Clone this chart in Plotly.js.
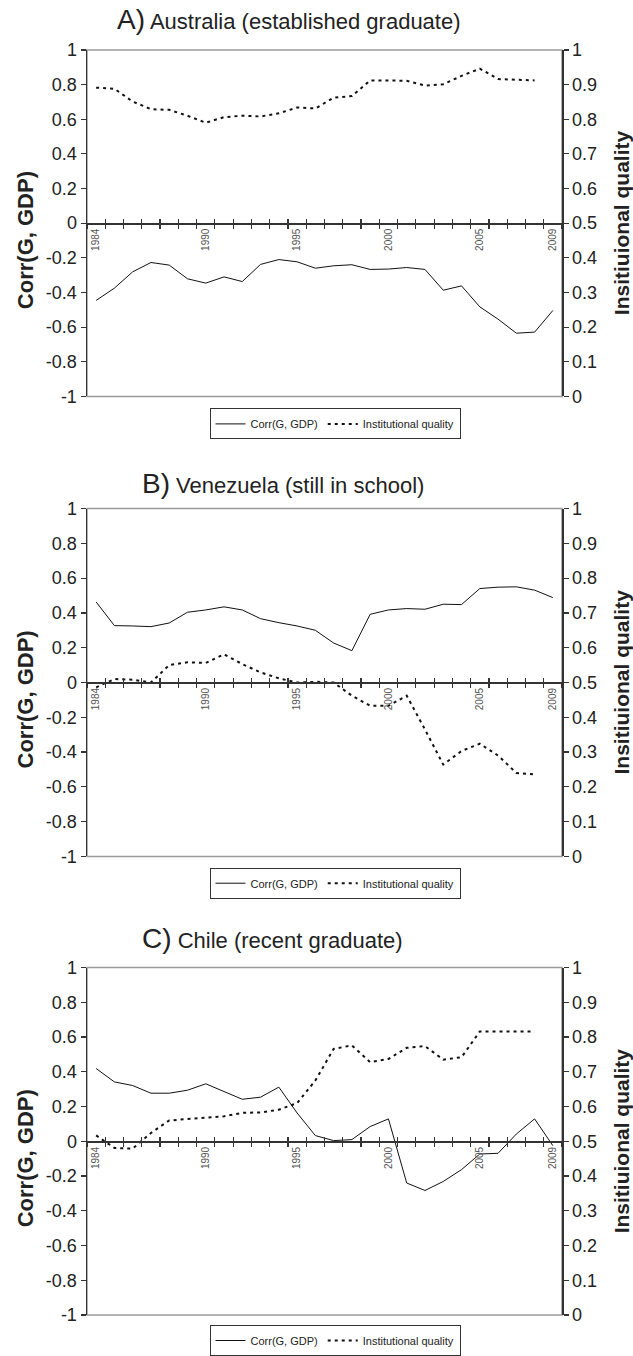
<!DOCTYPE html>
<html>
<head>
<meta charset="utf-8">
<script src="https://cdn.plot.ly/plotly-3.0.1.min.js"></script>
<style>
html,body{margin:0;padding:0;background:#fff;}
#chart{width:633px;height:1356px;}
</style>
</head>
<body>
<div id="chart"></div>
<script>
// ---- Data ----
const years = [1984,1985,1986,1987,1988,1989,1990,1991,1992,1993,1994,1995,1996,1997,1998,1999,2000,2001,2002,2003,2004,2005,2006,2007,2008,2009];
const instYears = [1984,1985,1986,1987,1988,1989,1990,1991,1992,1993,1994,1995,1996,1997,1998,1999,2000,2001,2002,2003,2004,2005,2006,2007,2008];

const ausCorr = [-0.446,-0.375,-0.281,-0.227,-0.242,-0.321,-0.346,-0.310,-0.337,-0.238,-0.210,-0.223,-0.260,-0.246,-0.240,-0.267,-0.265,-0.256,-0.267,-0.387,-0.362,-0.483,-0.554,-0.635,-0.629,-0.504];
const ausInst = [0.891,0.888,0.851,0.829,0.827,0.810,0.790,0.806,0.810,0.808,0.817,0.834,0.831,0.862,0.867,0.912,0.912,0.911,0.897,0.901,0.925,0.946,0.916,0.913,0.912];

const venCorr = [0.463,0.327,0.325,0.321,0.342,0.404,0.417,0.435,0.417,0.367,0.344,0.325,0.300,0.227,0.183,0.392,0.417,0.425,0.421,0.450,0.448,0.540,0.548,0.550,0.531,0.488];
const venInst = [0.486,0.510,0.508,0.500,0.550,0.558,0.556,0.581,0.553,0.529,0.512,0.500,0.502,0.500,0.462,0.433,0.433,0.462,0.365,0.264,0.303,0.324,0.290,0.240,0.236];

const chlCorr = [0.419,0.342,0.321,0.277,0.277,0.294,0.331,0.288,0.242,0.254,0.312,0.163,0.033,0.004,0.010,0.085,0.129,-0.240,-0.283,-0.231,-0.163,-0.073,-0.069,0.042,0.129,-0.025];
const chlInst = [0.517,0.481,0.479,0.524,0.560,0.564,0.569,0.572,0.582,0.583,0.591,0.610,0.675,0.766,0.776,0.728,0.737,0.769,0.774,0.735,0.742,0.816,0.816,0.816,0.816];

const labelYears = [1984,1990,1995,2000,2005,2009];
const labelYearText = ['1984','1990','1995','2000','2005','2009'];
const leftTicks = [-1,-0.8,-0.6,-0.4,-0.2,0,0.2,0.4,0.6,0.8,1];
const leftTickText = ['-1','-0.8','-0.6','-0.4','-0.2','0','0.2','0.4','0.6','0.8','1'];
const rightTicks = [0,0.1,0.2,0.3,0.4,0.5,0.6,0.7,0.8,0.9,1];
const rightTickText = ['0','0.1','0.2','0.3','0.4','0.5','0.6','0.7','0.8','0.9','1'];

const panelTitles = [
  ["A)", "Australia (established graduate)"],
  ["B)", "Venezuela (still in school)"],
  ["C)", "Chile (recent graduate)"]
];
const corrName = 'Corr(G, GDP)';
const instName = 'Institutional quality';
const leftTitle = 'Corr(G, GDP)';
const rightTitle = 'Insitiuional quality';

// ---- Layout geometry (pixels) ----
const W = 633, H = 1356;
const FONT = 'Liberation Sans, Arial, Helvetica, sans-serif';
const plotLeft = 87, plotRight = 562;
const panels = [
  {top: 50, bottom: 397, zero: 223.5, titleY: 20, titleX: 115, legendTop: 409},
  {top: 509.3, bottom: 857.7, zero: 683.5, titleY: 484, titleX: 140, legendTop: 869},
  {top: 969, bottom: 1317, zero: 1143, titleY: 940, titleX: 140, legendTop: 1327}
];
const py = v => 1 - v / H;
const px = v => v / W;

const series = [[ausCorr, ausInst],[venCorr, venInst],[chlCorr, chlInst]];
const data = [];
const layout = {
  width: W, height: H,
  margin: {l:0, r:0, t:0, b:0},
  paper_bgcolor: '#fff', plot_bgcolor: 'rgba(0,0,0,0)',
  font: {family: FONT, color: '#222'},
  showlegend: true,
  annotations: [],
  shapes: []
};

panels.forEach((p, i) => {
  const xm = i === 0 ? 'x' : 'x' + (i + 1);
  const xa = 'x' + (i + 4);
  const yl = i === 0 ? 'y' : 'y' + (2 * i + 1);
  const yr = 'y' + (2 * i + 2);
  const lg = i === 0 ? 'legend' : 'legend' + (i + 1);
  const xmKey = 'xaxis' + (i === 0 ? '' : (i + 1));
  const xaKey = 'xaxis' + (i + 4);
  const ylKey = 'yaxis' + (i === 0 ? '' : (2 * i + 1));
  const yrKey = 'yaxis' + (2 * i + 2);
  const ydom = [py(p.bottom), py(p.top)];
  const zeroPos = py(p.zero);
  const xrange = [1983.5, 2009.5];

  data.push({
    x: years, y: series[i][0], xaxis: xm, yaxis: yl, type: 'scatter', mode: 'lines',
    name: corrName, legend: lg, line: {color: '#111', width: 1}, hoverinfo: 'skip'
  });
  data.push({
    x: instYears, y: series[i][1], xaxis: xa, yaxis: yr, type: 'scatter', mode: 'lines',
    name: instName, legend: lg, line: {color: '#111', width: 2, dash: '3px,4px'}, hoverinfo: 'skip'
  });

  layout[xmKey] = {
    domain: [px(plotLeft), px(plotRight)], range: xrange, anchor: 'free', position: zeroPos,
    showline: true, linecolor: '#333', linewidth: 1.5, showgrid: false, zeroline: false,
    tickmode: 'array', tickvals: labelYears, ticktext: labelYearText, ticks: '',
    tickangle: -90, tickfont: {size: 10, color: '#555', family: FONT},
    minor: {ticks: 'outside', tickmode: 'linear', tick0: 1984.5, dtick: 1, ticklen: 4, tickcolor: '#333', tickwidth: 1.2, showgrid: false},
    fixedrange: true
  };
  layout[xaKey] = {
    overlaying: xm, range: xrange, anchor: 'free', position: zeroPos, side: 'bottom',
    showline: false, showgrid: false, zeroline: false,
    tickmode: 'linear', tick0: 1984.5, dtick: 1, ticks: 'inside', ticklen: 4, tickcolor: '#333', tickwidth: 1.2,
    showticklabels: false, fixedrange: true
  };
  layout[ylKey] = {
    domain: ydom, range: [-1, 1], anchor: xm, side: 'left',
    showline: true, linecolor: '#333', linewidth: 1.5, showgrid: false, zeroline: false,
    tickmode: 'array', tickvals: leftTicks, ticktext: leftTickText,
    ticks: 'outside', ticklen: 5, tickcolor: '#333', tickwidth: 1.2,
    tickfont: {size: 18, color: '#222', family: FONT}, fixedrange: true
  };
  layout[yrKey] = {
    overlaying: yl, range: [0, 1], anchor: xm, side: 'right',
    showline: true, linecolor: '#333', linewidth: 1.5, showgrid: false, zeroline: false,
    tickmode: 'array', tickvals: rightTicks, ticktext: rightTickText,
    ticks: 'outside', ticklen: 5, tickcolor: '#333', tickwidth: 1.2,
    tickfont: {size: 18, color: '#222', family: FONT}, fixedrange: true
  };

  layout[lg] = {
    x: px((202 + 468) / 2), xanchor: 'center', y: py(p.legendTop), yanchor: 'top',
    orientation: 'h', bordercolor: '#333', borderwidth: 1, bgcolor: '#fff',
    font: {size: 11, color: '#222', family: FONT}, itemclick: false, itemdoubleclick: false
  };

  layout.shapes.push({
    type: 'rect', xref: xm + ' domain', yref: yl + ' domain', x0: 0, x1: 1, y0: 0, y1: 1,
    line: {color: '#9a9a9a', width: 1.5}, layer: 'below'
  });

  layout.annotations.push({
    xref: 'paper', yref: 'paper', x: px(p.titleX), y: py(p.titleY), xanchor: 'left', yanchor: 'middle',
    showarrow: false,
    text: "<span style='font-size:28px'>" + panelTitles[i][0] + "</span> " + panelTitles[i][1],
    font: {size: 22, color: '#222', family: FONT}
  });
  layout.annotations.push({
    xref: 'paper', yref: 'paper', x: px(25), y: py(p.zero + 17), xanchor: 'center', yanchor: 'middle',
    showarrow: false, textangle: -90, text: '<b>' + leftTitle + '</b>',
    font: {size: 22, color: '#222', family: FONT}
  });
  layout.annotations.push({
    xref: 'paper', yref: 'paper', x: px(621), y: py(p.zero), xanchor: 'center', yanchor: 'middle',
    showarrow: false, textangle: -90, text: '<b>' + rightTitle + '</b>',
    font: {size: 21, color: '#222', family: FONT}
  });
});

Plotly.newPlot('chart', data, layout, {staticPlot: true, displayModeBar: false});
</script>
</body>
</html>
